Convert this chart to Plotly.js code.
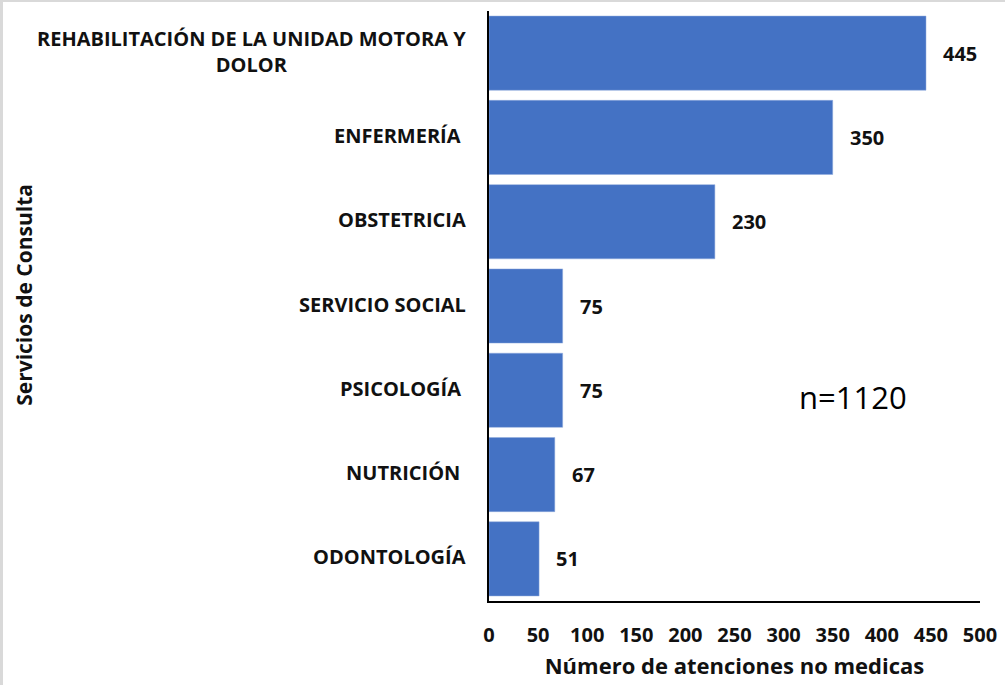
<!DOCTYPE html>
<html>
<head>
<meta charset="utf-8">
<script src="https://cdn.plot.ly/plotly-3.0.1.min.js"></script>
<style>
  html, body { margin: 0; padding: 0; background: #fff; }
  #wrap { position: relative; width: 1005px; height: 685px; }
  #chart { width: 1005px; height: 685px; }
  #frame { position: absolute; left: 0; top: 0; width: 1005px; height: 685px;
           border-top: 2px solid #d9d9d9; border-left: 3px solid #d9d9d9;
           box-sizing: border-box; pointer-events: none; }
</style>
</head>
<body>
<div id="wrap"><div id="chart"></div><div id="frame"></div></div>
<script>
const categories = [
  "REHABILITACIÓN DE LA UNIDAD MOTORA Y<br>DOLOR",
  "ENFERMERÍA\u00a0",
  "OBSTETRICIA",
  "SERVICIO SOCIAL",
  "PSICOLOGÍA\u00a0",
  "NUTRICIÓN\u00a0",
  "ODONTOLOGÍA"
];
const values = [445, 350, 230, 75, 75, 67, 51];
const xTicks = [0, 50, 100, 150, 200, 250, 300, 350, 400, 450, 500];
const totalLabel = "n=1120";
const xTitle = "Número de atenciones no medicas";
const yTitle = "Servicios de Consulta";

const FONT = "Open Sans, Noto Sans, sans-serif";
const catIdx = categories.map((c, i) => i);

const trace = {
  type: "bar",
  orientation: "h",
  x: values,
  y: catIdx,
  marker: { color: "#4472C4", line: { color: "#8faadc", width: 0.5 } },
  hoverinfo: "x"
};

const annotations = [];
categories.forEach((c, i) => {
  annotations.push({
    xref: "paper", yref: "y", x: 0, y: i, xanchor: "right", yanchor: "middle",
    xshift: -21, yshift: 2, text: c, showarrow: false, align: "center",
    font: { family: FONT, size: 20, color: "#111", weight: 700 }
  });
  annotations.push({
    xref: "x", yref: "y", x: values[i], y: i, xanchor: "left", yanchor: "middle",
    xshift: 15, text: String(values[i]), showarrow: false,
    font: { family: FONT, size: 20, color: "#111", weight: 700 }
  });
});
annotations.push({
  xref: "paper", yref: "paper", x: 0.742, y: 0.346, xanchor: "center", yanchor: "middle",
  text: totalLabel, showarrow: false,
  font: { family: FONT, size: 31, color: "#000" }
});
annotations.push({
  xref: "paper", yref: "paper", x: -0.947, y: 0.519, xanchor: "center", yanchor: "middle",
  text: yTitle, showarrow: false, textangle: -90,
  font: { family: FONT, size: 21, color: "#111", weight: 700 }
});

const layout = {
  width: 1005, height: 685,
  margin: { l: 489, r: 25, t: 11, b: 84 },
  paper_bgcolor: "#fff", plot_bgcolor: "#fff",
  showlegend: false,
  bargap: 0.12,
  xaxis: {
    range: [0, 500], tickvals: xTicks, ticktext: xTicks.map(String),
    showgrid: false, zeroline: false, showline: true, linecolor: "#000", linewidth: 2,
    ticks: "", ticklabelstandoff: 15,
    tickfont: { family: FONT, size: 20, color: "#111", weight: 700 },
    title: { text: xTitle, standoff: 12, font: { family: FONT, size: 22, color: "#111", weight: 700 } },
    fixedrange: true
  },
  yaxis: {
    range: [6.5, -0.5], tickvals: catIdx, showticklabels: false,
    showgrid: false, zeroline: false, showline: true, linecolor: "#000", linewidth: 2,
    ticks: "", fixedrange: true
  },
  annotations: annotations
};

Plotly.newPlot("chart", [trace], layout, { displayModeBar: false, staticPlot: true });
</script>
</body>
</html>
